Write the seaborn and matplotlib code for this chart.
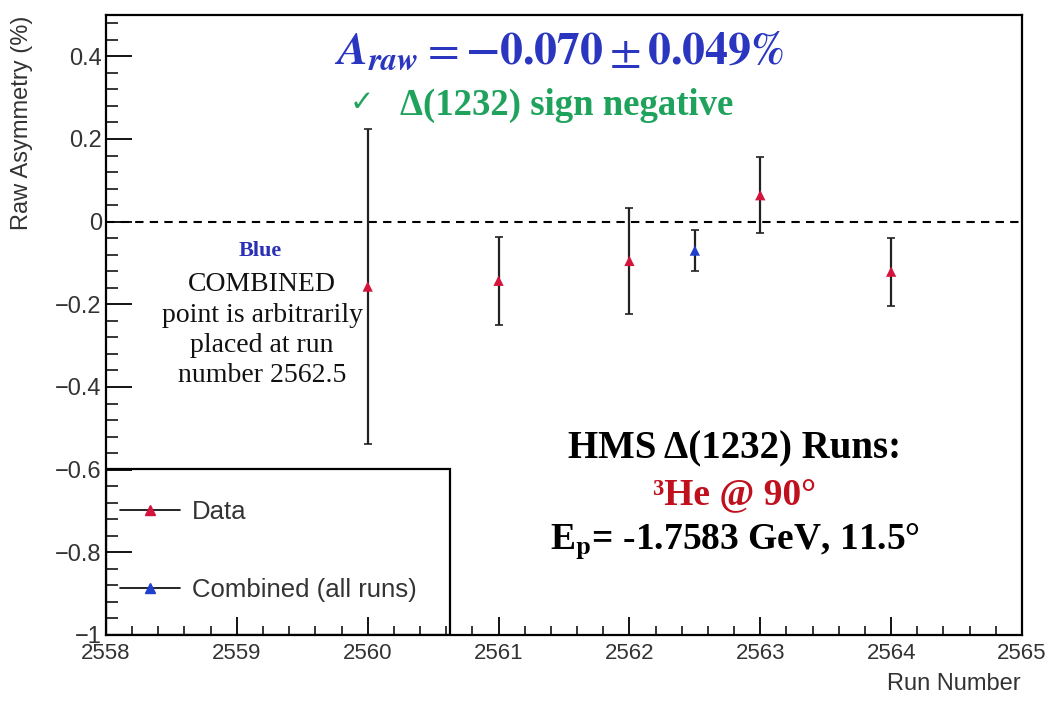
import matplotlib
matplotlib.use("Agg")
import matplotlib.pyplot as plt
import seaborn as sns
import pandas as pd
from matplotlib.lines import Line2D
from matplotlib.patches import Rectangle
from matplotlib.ticker import MultipleLocator

# ---- data ----
runs = [2560, 2561, 2562, 2563, 2564]
asym = [-0.157, -0.143, -0.095, 0.064, -0.121]
asym_err = [0.380, 0.107, 0.129, 0.092, 0.082]
comb_run = [2562.5]
comb_asym = [-0.070]
comb_err = [0.049]
xticks = [2558, 2559, 2560, 2561, 2562, 2563, 2564, 2565]
yticks = [-1, -0.8, -0.6, -0.4, -0.2, 0, 0.2, 0.4]
ytick_labels = ["\u22121", "\u22120.8", "\u22120.6", "\u22120.4", "\u22120.2", "0", "0.2", "0.4"]

sns.set_style("ticks")
plt.rcParams['font.family'] = ['Liberation Sans', 'DejaVu Sans']

RED = "#d4143c"
BLUE = "#1f3fcf"
GREEN = "#1fa35c"

fig = plt.figure(figsize=(10.48, 7.01), dpi=100)
ax = fig.add_axes([0.1011, 0.0942, 0.8741, 0.8844])

df = pd.DataFrame({"run": runs, "asym": asym})
dfc = pd.DataFrame({"run": comb_run, "asym": comb_asym})

ax.axhline(0, color="black", lw=1.5, ls=(0, (4, 3)), zorder=1)
ax.errorbar(runs, asym, yerr=asym_err, fmt="none", ecolor="#222222", elinewidth=1.6, capsize=3, capthick=1.2, zorder=2)
ax.errorbar(comb_run, comb_asym, yerr=comb_err, fmt="none", ecolor="#222222", elinewidth=1.6, capsize=3, capthick=1.2, zorder=2)
sns.scatterplot(data=df, x="run", y="asym", marker="^", color=RED, s=55, edgecolor="none", ax=ax, zorder=3)
sns.scatterplot(data=dfc, x="run", y="asym", marker="^", color=BLUE, s=55, edgecolor="none", ax=ax, zorder=3)

ax.set_xlim(2558, 2565)
ax.set_ylim(-1, 0.5)
ax.set_xticks(xticks)
ax.set_yticks(yticks)
ax.set_yticklabels(ytick_labels)
ax.xaxis.set_minor_locator(MultipleLocator(0.2))
ax.yaxis.set_minor_locator(MultipleLocator(0.04))
ax.tick_params(axis="both", which="both", direction="in", colors="black", labelcolor="#333333")
ax.tick_params(axis="y", which="major", length=19, width=1.3, labelsize=17, pad=3)
ax.tick_params(axis="y", which="minor", length=8.5, width=1.1)
ax.tick_params(axis="x", which="major", length=13, width=1.3, labelsize=16, pad=6)
ax.tick_params(axis="x", which="minor", length=6.5, width=1.1)
ax.xaxis.set_zorder(6)
ax.yaxis.set_zorder(6)
for s in ax.spines.values():
    s.set_linewidth(1.6)
    s.set_color("black")
    s.set_zorder(6)

ax.set_xlabel("")
ax.set_ylabel("")
fig.text(0.974, 0.024, "Run Number", ha="right", va="center", fontsize=17, color="#333333")
fig.text(0.021, 0.978, "Raw Asymmetry (%)", ha="center", va="top", rotation=90, fontsize=17, color="#333333")

# legend box
ax.add_patch(Rectangle((0, 0), 0.3755, 0.268, transform=ax.transAxes, fill=True,
                       facecolor="white", edgecolor="black", lw=1.6, zorder=4))
handles = [Line2D([0], [0], color="black", lw=1.2, marker="^", markersize=7, markerfacecolor=RED, markeredgecolor=RED),
           Line2D([0], [0], color="black", lw=1.2, marker="^", markersize=7, markerfacecolor=BLUE, markeredgecolor=BLUE)]
leg = ax.legend(handles, ["Data", "Combined (all runs)"], loc="center left", bbox_to_anchor=(0.015, 0.136),
                frameon=False, fontsize=18.5, handlelength=2.35, labelspacing=2.1, handletextpad=0.45,
                borderaxespad=0, borderpad=0, labelcolor="#333333")
leg.set_zorder(5)

# annotations
serif = ['Liberation Serif', 'DejaVu Serif']
fig.text(0.533, 0.926, r"$\mathbfit{A}_{\mathbfit{raw}} = \mathbf{-0.070} \pm \mathbf{0.049\%}$", ha="center", va="center",
         fontsize=33, color="#2a35c0", math_fontfamily="stix")
fig.text(0.345, 0.853, "\u2713", ha="center", va="center", fontsize=21, color=GREEN, family=['DejaVu Sans'], fontweight="bold")
fig.text(0.541, 0.85, "\u0394(1232) sign negative", ha="center", va="center", fontsize=26.5,
         color=GREEN, fontweight="bold", family=serif)

fig.text(0.248, 0.642, "Blue", ha="center", va="center", fontsize=16, color="#2a2fb5", fontweight="bold", family=serif)
fig.text(0.25, 0.529, "COMBINED\npoint is arbitrarily\nplaced at run\nnumber 2562.5", ha="center", va="center",
         fontsize=20, color="#111111", family=serif, linespacing=1.28)

fig.text(0.701, 0.359, "HMS \u0394(1232) Runs:", ha="center", va="center", fontsize=28, color="black",
         fontweight="bold", family=serif)
fig.text(0.701, 0.294, "\u00b3He @ 90\u00b0", ha="center", va="center", fontsize=27,
         color="#c0101e", fontweight="bold", family=serif)
fig.text(0.701, 0.228, r"E$_{\mathbf{p}}$= -1.7583 GeV, 11.5" + "\u00b0", ha="center", va="center",
         fontsize=27, color="black", fontweight="bold", family=serif, math_fontfamily="stix")

fig.savefig("out.png", dpi=100)
